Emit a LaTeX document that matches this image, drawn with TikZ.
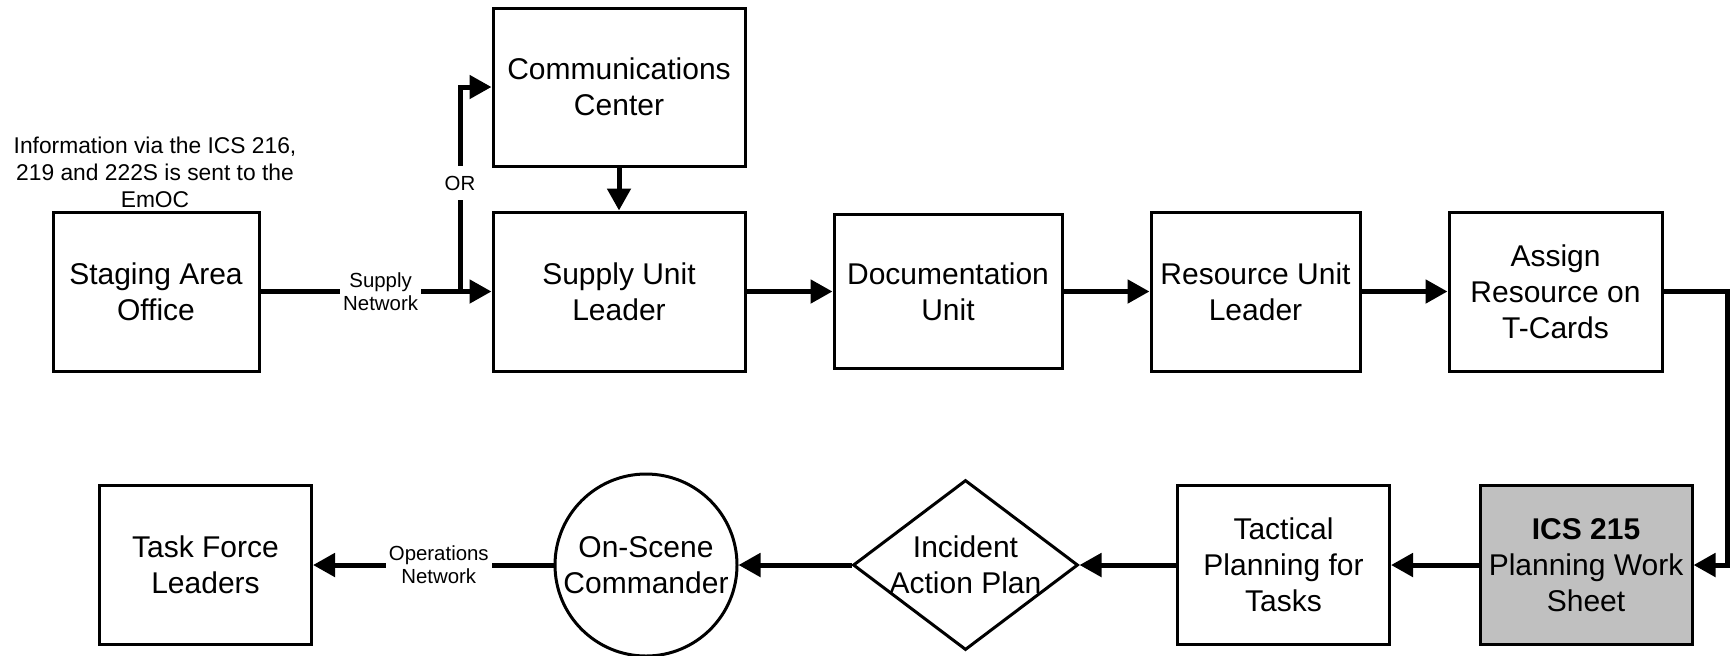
\documentclass[tikz,border=0pt]{standalone}
\usepackage{fontspec}
\setmainfont{Liberation Sans}
\usetikzlibrary{arrows.meta,shapes.geometric}
\definecolor{icsgray}{RGB}{192,192,192}
\begin{document}
\begin{tikzpicture}[x=0.5pt,y=-0.5pt,
  box/.style={draw=black, line width=1.5pt, inner sep=0pt, align=center,
              font={\fontsize{15}{18}\selectfont}},
  stdbox/.style={box, minimum width=106pt, minimum height=79.5pt},
  txt/.style={inner sep=0pt, align=center, font={\fontsize{15}{18}\selectfont}},
  flow/.style={line width=2.5pt, -{Triangle[length=11pt,width=11.5pt]}},
  netlabel/.style={fill=white, inner xsep=1.5pt, inner ysep=2pt, align=center,
                   font={\fontsize{10.2}{11.5}\selectfont}}]
\useasboundingbox (0,0) rectangle (1733,655);

% note above the staging office
\node[align=center, font={\fontsize{11.4}{13.5}\selectfont}] (note) at (155,172)
  {Information via the ICS 216,\\219 and 222S is sent to the\\EmOC};

% top row
\node[box, minimum width=103pt, minimum height=79.5pt] (stage) at (156,291.5) {Staging Area\\Office};
\node[box, minimum width=126pt, minimum height=79pt] (comm) at (619,87) {Communications\\Center};
\node[box, minimum width=126pt, minimum height=79.5pt] (supply) at (619,291.5) {Supply Unit\\Leader};
\node[box, minimum width=114pt, minimum height=77pt] (doc) at (948,291.5) {Documentation\\Unit};
\node[box, minimum width=104.5pt, minimum height=79.5pt] (res) at (1255.5,291.5) {Resource Unit\\Leader};
\node[box, minimum width=106.5pt, minimum height=79.5pt] (assign) at (1555.5,291.5) {Assign\\Resource on\\T-Cards};

% bottom row
\node[stdbox, fill=icsgray] (ics) at (1586,565) {\textbf{ICS 215}\\Planning Work\\Sheet};
\node[stdbox] (tact) at (1283.5,565) {Tactical\\Planning for\\Tasks};
\node[draw=black, line width=1.5pt, diamond, inner sep=0pt,
      minimum width=112.5pt, minimum height=85pt] (iap) at (965.5,565) {};
\node[txt] (iapt) at (iap.center) {Incident\\Action Plan};
\node[draw=black, line width=1.5pt, circle, inner sep=0pt, minimum size=91pt] (osc) at (646,565) {};
\node[txt] (osct) at (osc.center) {On-Scene\\Commander};
\node[stdbox] (tfl) at (205.5,565) {Task Force\\Leaders};

% connectors
\coordinate (fork) at (460,291.5);
\draw[flow] (stage.east) -- node[netlabel, pos=0.52] {Supply\\Network} (supply.west);
\draw[flow] (fork) -- node[netlabel, pos=0.53, inner ysep=5pt] {OR} (fork |- comm.west) -- (comm.west);
\draw[flow] (comm.south) -- (supply.north);
\draw[flow] (supply.east) -- (doc.west);
\draw[flow] (doc.east) -- (res.west);
\draw[flow] (res.east) -- (assign.west);
\draw[flow] (assign.east) -- ++(64,0) |- (ics.east);
\draw[flow] (ics.west) -- (tact.east);
\draw[flow] (tact.west) -- (iap.east);
\draw[flow] (iap.west) -- (osc.east);
\draw[flow] (osc.west) -- node[netlabel, pos=0.477] {Operations\\Network} (tfl.east);
\end{tikzpicture}
\end{document}
